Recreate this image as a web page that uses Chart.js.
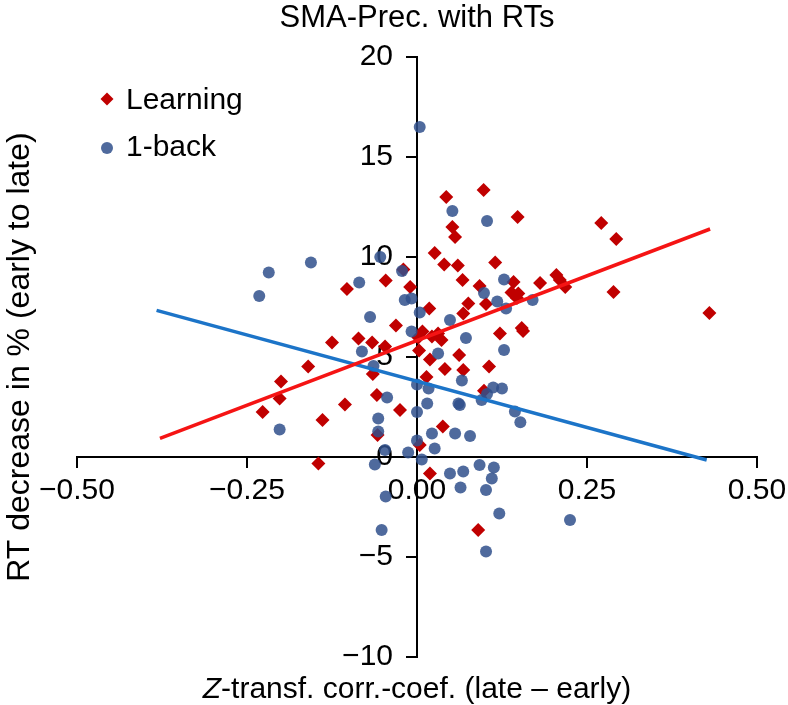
<!DOCTYPE html>
<html><head><meta charset="utf-8">
<script src="https://cdn.jsdelivr.net/npm/chart.js@4.4.0/dist/chart.umd.min.js"></script>
<style>html,body{margin:0;padding:0;background:#fff;}#wrap{width:788px;height:705px;}</style>
</head><body>
<div id="wrap"><canvas id="c" width="788" height="705"></canvas></div>
<script>
const chartTitle = 'SMA-Prec. with RTs';
const xTitleItalic = 'Z';
const xTitleRest = '-transf. corr.-coef. (late \u2013 early)';
const yTitle = 'RT decrease in % (early to late)';
const seriesNames = ['Learning', '1-back'];
const xTickValues = [-0.5, -0.25, 0, 0.25, 0.5];
const yTickValues = [-10, -5, 0, 5, 10, 15, 20];

const learningX = [0.043,0.098,0.052,0.056,0.148,0.271,0.293,0.026,0.115,0.040,0.060,0.067,0.142,0.092,0.139,0.149,0.147,0.181,0.205,0.210,0.218,0.289,0.430,0.1015,0.0755,0.018,0.068,0.008,0.022,0.031,0.036,0.122,0.154,0.156,-0.020,-0.010,-0.103,-0.046,-0.031,0.002,-0.125,-0.086,-0.066,-0.047,0.003,0.019,-0.160,-0.065,0.014,-0.200,-0.202,-0.059,-0.227,-0.106,-0.139,-0.025,-0.058,0.004,-0.145,0.019,0.062,0.041,0.068,0.106,0.0985,0.038,0.090];
const learningY = [13.0,13.35,11.5,11.0,12.0,11.7,10.9,10.2,9.72,9.62,9.58,8.85,8.75,8.55,8.22,8.18,7.95,8.7,9.1,8.85,8.5,8.25,7.2,7.65,7.68,7.43,7.18,6.27,6.02,6.18,5.85,6.18,6.45,6.3,9.38,8.5,8.4,8.82,6.58,5.98,5.72,5.93,5.72,5.52,5.32,4.88,4.52,4.15,4.0,3.78,2.93,3.1,2.25,2.63,1.85,2.35,1.1,0.6,-0.33,-0.82,5.1,4.4,4.35,4.52,3.31,1.52,-3.65];

const backX = [0.004,0.052,0.103,0.128,0.0985,0.118,0.131,0.170,0.004,0.0485,-0.008,0.072,-0.022,-0.018,-0.008,-0.232,-0.218,-0.156,-0.085,-0.054,-0.069,-0.081,-0.064,0.000,0.017,-0.044,0.015,0.000,-0.057,-0.202,-0.057,0.022,0.000,0.026,-0.013,-0.047,0.007,-0.062,0.031,0.128,0.066,0.112,0.125,0.103,0.095,0.061,0.063,0.144,0.152,0.056,0.078,0.092,0.113,0.0485,0.068,0.110,0.064,0.1015,-0.046,0.121,0.225,-0.052,0.1015];
const backY = [16.5,12.3,11.8,8.88,8.2,7.77,7.43,7.85,7.22,6.85,6.27,5.95,9.3,7.85,7.93,8.05,9.23,9.73,8.73,10.0,7.0,5.27,4.55,3.63,3.43,2.97,2.68,2.25,1.93,1.38,1.27,1.18,0.82,0.43,0.23,0.35,-0.12,-0.38,5.18,5.35,3.82,3.48,3.43,3.15,2.85,2.68,2.6,2.27,1.74,1.18,1.05,-0.4,-0.53,-0.82,-0.73,-1.07,-1.52,-1.65,-1.98,-2.82,-3.15,-3.65,-4.73];

const learningFitX = [-0.378, 0.431];
const learningFitY = [0.93, 11.4];
const backFitX = [-0.383, 0.426];
const backFitY = [7.33, -0.15];

const FONT = '"Liberation Sans", Arial, Helvetica, sans-serif';
const RED = '#C00000';
const BLUE = 'rgba(48,80,140,0.85)';
const toPts = (xs, ys) => xs.map((x, i) => ({x: x, y: ys[i]}));
const fmtNum = (v, d) => { const s = Math.abs(v).toFixed(d); return v < 0 ? '\u2212' + s : s; };

const textPlugin = {
  id: 'texts',
  afterDraw(chart) {
    const ctx = chart.ctx, a = chart.chartArea;
    const cx = (a.left + a.right) / 2;
    ctx.save();
    ctx.fillStyle = '#000';
    ctx.textBaseline = 'alphabetic';
    // title
    ctx.font = '31px ' + FONT;
    ctx.textAlign = 'center';
    ctx.fillText(chartTitle, cx, 27);
    // x title
    ctx.textAlign = 'left';
    ctx.font = 'italic 30px ' + FONT;
    const wz = ctx.measureText(xTitleItalic).width;
    ctx.font = '30px ' + FONT;
    const wr = ctx.measureText(xTitleRest).width;
    const x0 = cx - (wz + wr) / 2;
    ctx.font = 'italic 30px ' + FONT;
    ctx.fillText(xTitleItalic, x0, 698);
    ctx.font = '30px ' + FONT;
    ctx.fillText(xTitleRest, x0 + wz, 698);
    // y title
    ctx.save();
    ctx.translate(29, (a.top + a.bottom) / 2);
    ctx.rotate(-Math.PI / 2);
    ctx.textAlign = 'center';
    ctx.font = '32px ' + FONT;
    ctx.fillText(yTitle, 0, 0);
    ctx.restore();
    // legend
    const mx = a.left + 30, tx = a.left + 49;
    ctx.fillStyle = RED;
    ctx.beginPath();
    ctx.moveTo(mx, 99 - 6.5); ctx.lineTo(mx + 6.5, 99); ctx.lineTo(mx, 99 + 6.5); ctx.lineTo(mx - 6.5, 99);
    ctx.closePath(); ctx.fill();
    ctx.fillStyle = BLUE;
    ctx.beginPath(); ctx.arc(mx, 148, 6, 0, Math.PI * 2); ctx.fill();
    ctx.fillStyle = '#000';
    ctx.font = '30px ' + FONT;
    ctx.textAlign = 'left';
    ctx.fillText(seriesNames[0], tx, 109);
    ctx.fillText(seriesNames[1], tx, 156);
    ctx.restore();
  }
};

const axisCommon = {
  grid: {drawOnChartArea: false, drawTicks: true, tickLength: 10, color: '#000', lineWidth: 2},
  border: {display: true, color: '#000', width: 2}
};

new Chart(document.getElementById('c'), {
  type: 'scatter',
  data: {
    datasets: [
      {label: 'Learning fit', data: toPts(learningFitX, learningFitY), showLine: true, borderColor: '#F51414', borderWidth: 3.5, pointRadius: 0, order: 0},
      {label: '1-back fit', data: toPts(backFitX, backFitY), showLine: true, borderColor: '#1C74C8', borderWidth: 3.5, pointRadius: 0, order: 1},
      {label: seriesNames[1], data: toPts(backX, backY), pointStyle: 'circle', pointRadius: 6, backgroundColor: BLUE, borderWidth: 0, order: 2},
      {label: seriesNames[0], data: toPts(learningX, learningY), pointStyle: 'rectRot', pointRadius: 7, backgroundColor: RED, borderWidth: 0, order: 3}
    ]
  },
  options: {
    responsive: false,
    animation: false,
    devicePixelRatio: 1,
    layout: {padding: {left: 77, right: 31, top: 57, bottom: 48}},
    plugins: {legend: {display: false}, tooltip: {enabled: false}, title: {display: false}},
    scales: {
      x: Object.assign({
        type: 'linear', position: {y: 0}, min: -0.5, max: 0.5,
        afterBuildTicks: s => { s.ticks = xTickValues.map(v => ({value: v})); },
        afterFit: s => { s.paddingLeft = 0; s.paddingRight = 0; },
        ticks: {callback: v => fmtNum(v, 2), font: {size: 30, family: FONT}, color: '#000', padding: 6, maxRotation: 0, autoSkip: false}
      }, axisCommon),
      y: Object.assign({
        type: 'linear', position: 'center', min: -10, max: 20,
        afterBuildTicks: s => { s.ticks = yTickValues.map(v => ({value: v})); },
        afterFit: s => { s.paddingTop = 0; s.paddingBottom = 0; },
        ticks: {callback: v => fmtNum(v, 0), font: {size: 30, family: FONT}, color: '#000', padding: 14, autoSkip: false}
      }, axisCommon)
    }
  },
  plugins: [textPlugin]
});
</script>
</body></html>
